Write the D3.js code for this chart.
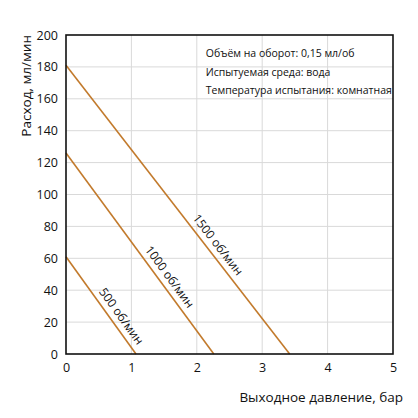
<!DOCTYPE html>
<html><head><meta charset="utf-8">
<script src="https://cdn.jsdelivr.net/npm/d3@7"></script>
<style>body{margin:0;background:#fff}svg{display:block}text{font-family:"Open Sans",sans-serif;fill:#111}</style>
</head><body>
<script>
const speeds = ["500 об/мин", "1000 об/мин", "1500 об/мин"];
const flowAtZero = [61, 126, 181];        // мл/мин at 0 бар
const pressureAtZeroFlow = [1.07, 2.26, 3.42]; // бар at 0 flow
const labelAtPressure = [0.72, 1.46, 2.2];
const xTicks = [0, 1, 2, 3, 4, 5];
const yTicks = [0, 20, 40, 60, 80, 100, 120, 140, 160, 180, 200];
const infoLines = ["Объём на оборот: 0,15 мл/об", "Испытуемая среда: вода", "Температура испытания: комнатная"];
const xTitle = "Выходное давление, бар";
const yTitle = "Расход, мл/мин";

const W = 418, H = 418;
const m = {l: 66, r: 25, t: 35, b: 64};
const svg = d3.select("body").append("svg").attr("width", W).attr("height", H);
const x = d3.scaleLinear().domain([0, 5]).range([m.l, W - m.r]);
const y = d3.scaleLinear().domain([0, 200]).range([H - m.b, m.t]);

// grid
svg.append("g").selectAll("line").data(xTicks.slice(1, -1)).join("line")
  .attr("x1", d => x(d)).attr("x2", d => x(d)).attr("y1", y(0)).attr("y2", y(200))
  .attr("stroke", "#d9d9d9").attr("stroke-width", 1);
svg.append("g").selectAll("line").data(yTicks.slice(1, -1)).join("line")
  .attr("y1", d => y(d)).attr("y2", d => y(d)).attr("x1", x(0)).attr("x2", x(5))
  .attr("stroke", "#d9d9d9").attr("stroke-width", 1);

// info box background
svg.append("rect").attr("x", x(2.03)).attr("y", y(200)).attr("width", x(5) - x(2.03)).attr("height", y(200) - y(160.5))
  .attr("fill", "#fff");
svg.append("g").selectAll("text").data(infoLines).join("text")
  .attr("x", x(2.03) + 7).attr("y", (d, i) => y(200) + 22 + i * 18.5)
  .attr("font-size", 10.5).text(d => d);

// axes
const xa = svg.append("g").attr("transform", `translate(0,${y(0)})`)
  .call(d3.axisBottom(x).tickValues(xTicks).tickFormat(d3.format("d")).tickSize(0).tickPadding(9));
const ya = svg.append("g").attr("transform", `translate(${x(0)},0)`)
  .call(d3.axisLeft(y).tickValues(yTicks).tickFormat(d3.format("d")).tickSize(0).tickPadding(8));
[xa, ya].forEach(a => { a.select(".domain").remove(); a.selectAll("text").attr("font-size", 12.5).attr("font-family", '"Open Sans",sans-serif').attr("fill", "#111"); });

// lines
const color = "#c27a2c";
speeds.forEach((s, i) => {
  svg.append("line").attr("x1", x(0)).attr("y1", y(flowAtZero[i]))
    .attr("x2", x(pressureAtZeroFlow[i])).attr("y2", y(0))
    .attr("stroke", color).attr("stroke-width", 1.6);
  const px = labelAtPressure[i];
  const py = flowAtZero[i] * (1 - px / pressureAtZeroFlow[i]);
  const ang = Math.atan2(y(0) - y(flowAtZero[i]), x(pressureAtZeroFlow[i]) - x(0)) * 180 / Math.PI;
  svg.append("text").attr("transform", `translate(${x(px)},${y(py)}) rotate(${ang}) translate(0,-6)`)
    .attr("text-anchor", "middle").attr("font-size", 12).text(s);
});

// frame
svg.append("rect").attr("x", x(0)).attr("y", y(200)).attr("width", x(5) - x(0)).attr("height", y(0) - y(200))
  .attr("fill", "none").attr("stroke", "#111").attr("stroke-width", 1.6);

// titles
svg.append("text").attr("x", W - 15).attr("y", 402).attr("text-anchor", "end").attr("font-size", 13.5).text(xTitle);
svg.append("text").attr("transform", `translate(31,${y(200)}) rotate(-90)`).attr("text-anchor", "end").attr("font-size", 13.5).text(yTitle);
</script>
</body></html>
